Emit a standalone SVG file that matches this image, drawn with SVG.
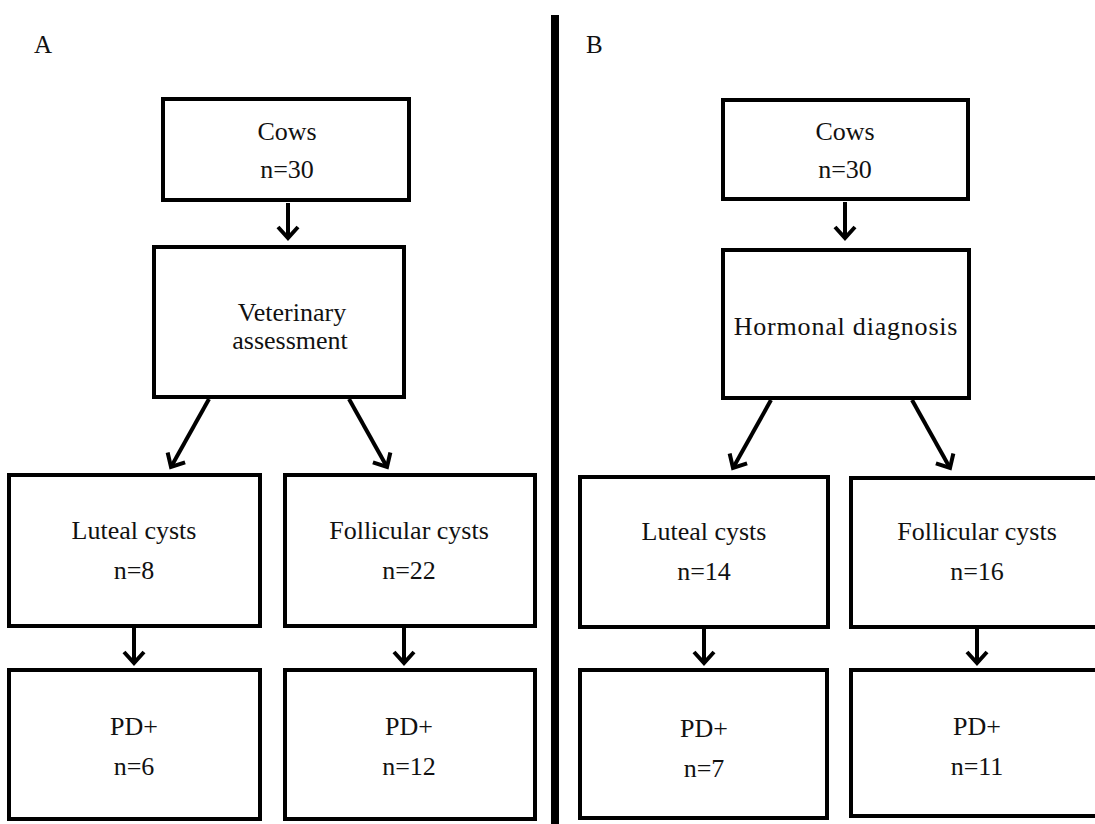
<svg xmlns="http://www.w3.org/2000/svg" width="1095" height="824" viewBox="0 0 1095 824">
<style>
.box{fill:#fff;stroke:#000;stroke-width:4}
.t{font-family:"Liberation Serif","Times New Roman",serif;font-size:26px;fill:#111;text-anchor:middle}
.lbl{font-family:"Liberation Serif","Times New Roman",serif;font-size:25px;fill:#111}
.c{stroke:#000;stroke-width:4;fill:none}
</style>
<defs>
<marker id="ah" markerUnits="userSpaceOnUse" markerWidth="30" markerHeight="30" viewBox="-15 -15 30 30" refX="0" refY="0" orient="auto">
<path d="M-11,-10 L0,0 L-11,10" fill="none" stroke="#000" stroke-width="4"/>
</marker>
</defs>
<rect width="1095" height="824" fill="#fff"/>
<text class="lbl" x="34" y="53">A</text>
<text class="lbl" x="586" y="53">B</text>
<rect x="551" y="15" width="8" height="809" fill="#000"/>
<g id="connectors">
<line class="c" x1="288" y1="203" x2="288" y2="238" marker-end="url(#ah)"/>
<line class="c" x1="209" y1="399" x2="171" y2="467" marker-end="url(#ah)"/>
<line class="c" x1="349" y1="399" x2="387" y2="467" marker-end="url(#ah)"/>
<line class="c" x1="134" y1="628" x2="134" y2="663" marker-end="url(#ah)"/>
<line class="c" x1="404" y1="628" x2="404" y2="663" marker-end="url(#ah)"/>
<line class="c" x1="845" y1="202" x2="845" y2="238" marker-end="url(#ah)"/>
<line class="c" x1="771" y1="400" x2="733" y2="468" marker-end="url(#ah)"/>
<line class="c" x1="912" y1="400" x2="950" y2="468" marker-end="url(#ah)"/>
<line class="c" x1="704" y1="629" x2="704" y2="663" marker-end="url(#ah)"/>
<line class="c" x1="977" y1="629" x2="977" y2="663" marker-end="url(#ah)"/>
</g>
<g id="cowsA"><rect class="box" x="163" y="99" width="246" height="101"/><text class="t" x="287" y="140">Cows</text><text class="t" x="287" y="178">n=30</text></g>
<g id="vetA"><rect class="box" x="154" y="247" width="250" height="150"/><text class="t" x="292" y="321">Veterinary</text><text class="t" x="290" y="349">assessment</text></g>
<g id="lutA"><rect class="box" x="9" y="475" width="251" height="151"/><text class="t" x="134" y="539">Luteal cysts</text><text class="t" x="134" y="579">n=8</text></g>
<g id="folA"><rect class="box" x="285" y="475" width="250" height="151"/><text class="t" x="409" y="539">Follicular cysts</text><text class="t" x="409" y="579">n=22</text></g>
<g id="pdLA"><rect class="box" x="9" y="670" width="251" height="149"/><text class="t" x="134" y="735">PD+</text><text class="t" x="134" y="775">n=6</text></g>
<g id="pdFA"><rect class="box" x="285" y="670" width="250" height="149"/><text class="t" x="409" y="735">PD+</text><text class="t" x="409" y="775">n=12</text></g>
<g id="cowsB"><rect class="box" x="723" y="100" width="245" height="99"/><text class="t" x="845" y="140">Cows</text><text class="t" x="845" y="178">n=30</text></g>
<g id="hormB"><rect class="box" x="723" y="250" width="246" height="148"/><text class="t" x="846" y="335" letter-spacing="0.8">Hormonal diagnosis</text></g>
<g id="lutB"><rect class="box" x="580" y="477" width="248" height="150"/><text class="t" x="704" y="540">Luteal cysts</text><text class="t" x="704" y="580">n=14</text></g>
<g id="folB"><rect class="box" x="851" y="478" width="252" height="149"/><text class="t" x="977" y="540">Follicular cysts</text><text class="t" x="977" y="580">n=16</text></g>
<g id="pdLB"><rect class="box" x="580" y="670" width="247" height="148"/><text class="t" x="704" y="737">PD+</text><text class="t" x="704" y="777">n=7</text></g>
<g id="pdFB"><rect class="box" x="851" y="670" width="252" height="146"/><text class="t" x="977" y="735">PD+</text><text class="t" x="977" y="775">n=11</text></g>
</svg>
